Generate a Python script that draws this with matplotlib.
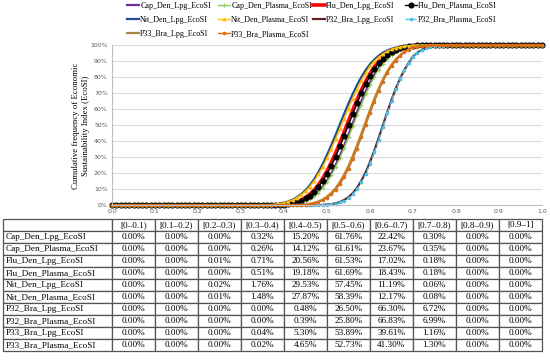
import numpy as np
import matplotlib
matplotlib.use("Agg")
import matplotlib.pyplot as plt

plt.rcParams['font.family'] = ['Liberation Serif', 'DejaVu Serif']

# x positions of the cumulative curve (EcoSI value, 0.00 ... 1.00)
x_ecosi = np.round(np.arange(0, 101) / 100, 2)

# cumulative frequency (%) for EcoSI = 0.30 ... 0.80
cap_den_lpg = [0, 0, 0, 0, 0, 0, 0, 0.1, 0.1, 0.2,
               0.3, 0.5, 0.8, 1.2, 1.9, 2.9, 4.3, 6.2, 8.5, 11.7,
               15.4, 20.0, 25.1, 31.2, 37.4, 44.4, 51.4, 58.3, 65.2, 71.2,
               77.0, 81.9, 86.2, 89.6, 92.5, 94.6, 96.3, 97.5, 98.4, 99.0,
               99.5, 99.7, 99.9, 99.9, 100, 100, 100, 100, 100, 100, 100]
cap_den_plasma = [0, 0, 0, 0, 0, 0, 0, 0, 0.1, 0.2,
                  0.3, 0.4, 0.7, 1.1, 1.8, 2.7, 3.9, 5.7, 7.9, 10.9,
                  14.5, 18.8, 23.8, 29.5, 35.8, 42.4, 49.3, 56.2, 62.9, 69.3,
                  75.1, 80.3, 84.8, 88.5, 91.5, 93.9, 95.7, 97.1, 98.1, 98.7,
                  99.5, 99.7, 99.8, 99.9, 100, 100, 100, 100, 100, 100, 100]
flu_den_lpg = [0, 0, 0, 0, 0, 0, 0.1, 0.1, 0.2, 0.4,
               0.7, 1.0, 1.5, 2.3, 3.4, 4.9, 6.9, 9.5, 12.8, 16.7,
               21.4, 26.7, 32.7, 39.1, 45.9, 52.8, 59.5, 66.1, 72.1, 77.6,
               82.4, 86.5, 89.9, 92.6, 94.7, 96.3, 97.5, 98.4, 99.0, 99.4,
               99.8, 99.9, 100, 100, 100, 100, 100, 100, 100, 100, 100]
flu_den_plasma = [0, 0, 0, 0, 0, 0, 0.1, 0.1, 0.2, 0.3,
                  0.5, 0.8, 1.3, 2.0, 3.0, 4.3, 6.1, 8.5, 11.5, 15.2,
                  19.7, 24.8, 30.5, 36.8, 43.5, 50.3, 57.2, 63.8, 70.1, 75.7,
                  80.8, 85.2, 88.8, 91.7, 94.1, 95.8, 97.2, 98.1, 98.8, 99.3,
                  99.7, 99.9, 100, 100, 100, 100, 100, 100, 100, 100, 100]
nit_den_lpg = [0, 0, 0, 0, 0.1, 0.1, 0.2, 0.4, 0.7, 1.0,
               1.7, 2.4, 3.5, 5.0, 6.9, 9.4, 12.5, 16.3, 20.7, 25.8,
               31.5, 37.6, 44.0, 50.7, 57.3, 63.7, 69.7, 75.3, 80.2, 84.5,
               88.2, 91.1, 93.5, 95.4, 96.8, 97.8, 98.5, 99.1, 99.4, 99.6,
               99.9, 100, 100, 100, 100, 100, 100, 100, 100, 100, 100]
nit_den_plasma = [0, 0, 0, 0, 0.1, 0.1, 0.2, 0.4, 0.6, 1.0,
                  1.5, 2.3, 3.3, 4.7, 6.5, 8.8, 11.7, 15.2, 19.3, 24.0,
                  29.4, 35.2, 41.3, 47.7, 54.2, 60.5, 66.6, 72.2, 77.8, 82.6,
                  87.0, 90.0, 92.6, 94.6, 96.2, 97.4, 98.3, 98.9, 99.3, 99.6,
                  99.9, 100, 100, 100, 100, 100, 100, 100, 100, 100, 100]
p32_bra_lpg = [0, 0, 0, 0, 0, 0, 0, 0, 0, 0,
               0, 0, 0, 0, 0, 0, 0, 0, 0.1, 0.2,
               0.5, 0.7, 1.2, 2.1, 3.3, 5.1, 7.6, 11.0, 15.4, 20.7,
               27.0, 34.2, 41.9, 50.0, 58.1, 65.8, 73.0, 79.3, 84.6, 89.0,
               93.0, 95.4, 97.0, 98.1, 98.9, 99.4, 99.7, 99.8, 99.9, 100, 100]
p32_bra_plasma = [0, 0, 0, 0, 0, 0, 0, 0, 0, 0,
                  0, 0, 0, 0, 0, 0, 0, 0, 0.1, 0.2,
                  0.4, 0.6, 1.0, 1.8, 2.9, 4.6, 7.0, 10.2, 14.4, 19.7,
                  25.9, 33.1, 40.9, 49.2, 57.4, 65.4, 72.7, 79.2, 84.6, 89.0,
                  92.9, 95.3, 97.0, 98.1, 98.9, 99.4, 99.7, 99.8, 99.9, 100, 100]
p33_bra_lpg = [0, 0, 0, 0, 0, 0, 0, 0, 0, 0,
               0, 0.1, 0.1, 0.2, 0.3, 0.6, 0.9, 1.5, 2.4, 3.6,
               5.4, 7.7, 10.7, 14.6, 19.2, 24.7, 30.9, 37.6, 44.8, 52.2,
               59.5, 66.5, 72.9, 78.7, 83.7, 87.8, 91.2, 93.8, 95.9, 97.5,
               98.8, 99.3, 99.6, 99.8, 99.9, 100, 100, 100, 100, 100, 100]
p33_bra_plasma = [0, 0, 0, 0, 0, 0, 0, 0, 0, 0,
                  0, 0, 0.1, 0.1, 0.3, 0.4, 0.8, 1.3, 2.0, 3.1,
                  4.6, 6.8, 9.6, 13.1, 17.5, 22.7, 28.7, 35.4, 42.6, 50.0,
                  57.4, 64.6, 71.3, 77.3, 82.5, 86.9, 90.5, 93.3, 95.6, 97.3,
                  98.7, 99.2, 99.5, 99.8, 99.9, 100, 100, 100, 100, 100, 100]

series_names = ["Cap_Den_Lpg_EcoSI", "Cap_Den_Plasma_EcoSI", "Flu_Den_Lpg_EcoSI",
                "Flu_Den_Plasma_EcoSI", "Nit_Den_Lpg_EcoSI", "Nit_Den_Plasma_EcoSI",
                "P32_Bra_Lpg_EcoSI", "P32_Bra_Plasma_EcoSI", "P33_Bra_Lpg_EcoSI",
                "P33_Bra_Plasma_EcoSI"]
series_mid = [cap_den_lpg, cap_den_plasma, flu_den_lpg, flu_den_plasma, nit_den_lpg,
              nit_den_plasma, p32_bra_lpg, p32_bra_plasma, p33_bra_lpg, p33_bra_plasma]

# table: frequency (%) per EcoSI bin
bin_labels = ["[0\u20130.1)", "[0.1\u20130.2)", "[0.2\u20130.3)", "[0.3\u20130.4)",
              "[0.4\u20130.5)", "[0.5\u20130.6)", "[0.6\u20130.7)", "[0.7\u20130.8)",
              "[0.8\u20130.9)", "[0.9\u20131]"]
tab_cap_den_lpg = [0.00, 0.00, 0.00, 0.32, 15.20, 61.76, 22.42, 0.30, 0.00, 0.00]
tab_cap_den_plasma = [0.00, 0.00, 0.00, 0.26, 14.12, 61.61, 23.67, 0.35, 0.00, 0.00]
tab_flu_den_lpg = [0.00, 0.00, 0.01, 0.71, 20.56, 61.53, 17.02, 0.18, 0.00, 0.00]
tab_flu_den_plasma = [0.00, 0.00, 0.00, 0.51, 19.18, 61.69, 18.43, 0.18, 0.00, 0.00]
tab_nit_den_lpg = [0.00, 0.00, 0.02, 1.76, 29.53, 57.45, 11.19, 0.06, 0.00, 0.00]
tab_nit_den_plasma = [0.00, 0.00, 0.01, 1.48, 27.87, 58.39, 12.17, 0.08, 0.00, 0.00]
tab_p32_bra_lpg = [0.00, 0.00, 0.00, 0.00, 0.48, 26.50, 66.30, 6.72, 0.00, 0.00]
tab_p32_bra_plasma = [0.00, 0.00, 0.00, 0.00, 0.39, 25.80, 66.83, 6.99, 0.00, 0.00]
tab_p33_bra_lpg = [0.00, 0.00, 0.00, 0.04, 5.30, 53.89, 39.61, 1.16, 0.00, 0.00]
tab_p33_bra_plasma = [0.00, 0.00, 0.00, 0.02, 4.65, 52.73, 41.30, 1.30, 0.00, 0.00]
table_rows = [tab_cap_den_lpg, tab_cap_den_plasma, tab_flu_den_lpg, tab_flu_den_plasma,
              tab_nit_den_lpg, tab_nit_den_plasma, tab_p32_bra_lpg, tab_p32_bra_plasma,
              tab_p33_bra_lpg, tab_p33_bra_plasma]

styles = [
    dict(color="#7030A0", lw=1.6),
    dict(color="#92D050", lw=1.0, marker="+", ms=3, mew=0.8),
    dict(color="#FF0000", lw=2.6),
    dict(color="#000000", lw=1.0, marker="o", ms=3.4),
    dict(color="#1F4E9A", lw=1.6),
    dict(color="#FFC000", lw=1.0, marker="^", ms=1.8),
    dict(color="#632523", lw=1.6),
    dict(color="#4BC0E8", lw=1.0, ls=(0, (3, 2)), marker="s", ms=1.6),
    dict(color="#A5884A", lw=1.6),
    dict(color="#E46C0A", lw=1.0, marker="o", ms=1.6),
]

fig = plt.figure(figsize=(5.5, 3.6), dpi=100)
W, H = 550.0, 360.0
x0, x1 = 112, 542
y_top, y_bot = 45.3, 205.3
ax = fig.add_axes([x0 / W, 1 - y_bot / H, (x1 - x0) / W, (y_bot - y_top) / H])

handles = []
for name, mid, st in zip(series_names, series_mid, styles):
    y = [0.0] * 30 + list(mid) + [100.0] * 20
    h, = ax.plot(x_ecosi, y, label=name, clip_on=False, **st)
    handles.append(h)

ax.set_xlim(0, 1)
ax.set_ylim(0, 100)
ax.set_yticks(np.arange(0, 101, 10))
ax.set_yticklabels([f"{v}%" for v in range(0, 101, 10)])
ax.set_xticks(np.round(np.arange(0, 1.01, 0.1), 1))
ax.set_xticklabels([f"{v:.1f}" for v in np.arange(0, 1.01, 0.1)])
ax.tick_params(axis="both", labelsize=4.5, colors="#595959", length=0, pad=3)
for lab in ax.get_xticklabels() + ax.get_yticklabels():
    lab.set_family("DejaVu Sans")
ax.grid(axis="y", color="#D9D9D9", lw=0.8)
ax.set_axisbelow(True)
for s in ["top", "right"]:
    ax.spines[s].set_visible(False)
ax.spines["left"].set_color("#BFBFBF")
ax.spines["bottom"].set_color("#BFBFBF")

fig.text(81 / W, 1 - 126 / H,
         "Cumulative frequency of Economic\nSustainability Index (EcoSI)",
         rotation=90, ha="center", va="center", fontsize=6.3, linespacing=1.3)

# legend laid out in four columns, row-major order as in the reference
col_groups = [[0, 4, 8], [1, 5, 9], [2, 6], [3, 7]]
col_x = [127, 218, 313, 405]
for grp, cx in zip(col_groups, col_x):
    leg = fig.legend([handles[i] for i in grp], [series_names[i] for i in grp],
                     loc="upper left", bbox_to_anchor=(cx / W, 1 - 1.5 / H),
                     frameon=False, fontsize=5.8, handlelength=1.45, handletextpad=0.2,
                     labelspacing=0.78, borderaxespad=0.0, borderpad=0.0)

# table
cell_text = [[""] + bin_labels]
for name, row in zip(series_names, table_rows):
    cell_text.append([name] + [f"{v:.2f}%" for v in row])
first_w = (x0 - 3) / (x1 - x0)
tab_top, tab_bot = 219, 351
tbl = ax.table(cellText=cell_text,
               colWidths=[first_w] + [0.1] * 10,
               bbox=[-first_w, (y_bot - tab_bot) / (y_bot - y_top),
                     first_w + 1.0, (tab_bot - tab_top) / (y_bot - y_top)],
               cellLoc="center")
tbl.auto_set_font_size(False)
tbl.set_fontsize(6.6)
for (r, c), cell in tbl.get_celld().items():
    cell.set_edgecolor("#555555")
    cell.set_linewidth(0.9)
    if c == 0:
        cell.PAD = 0.025
        cell.get_text().set_ha("left")
        cell._loc = "left"

fig.savefig("out.png", dpi=100, facecolor="white")
